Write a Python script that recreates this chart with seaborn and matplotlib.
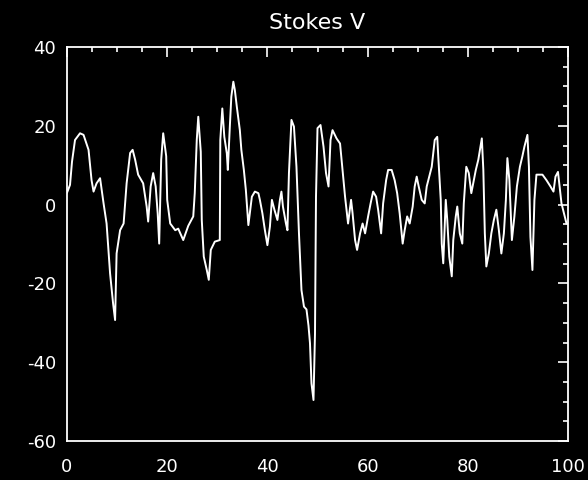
import matplotlib
matplotlib.use("Agg")
import matplotlib.pyplot as plt
import seaborn as sns
import pandas as pd
from matplotlib.ticker import MultipleLocator

# traced data (x position, Stokes V value)
xs = [0.0, 0.6, 1.0, 1.6, 2.6, 3.3, 4.3, 4.9, 5.3, 5.9, 6.6, 7.3, 7.9, 8.6, 9.2, 9.6,
      9.9, 10.6, 11.3, 11.9, 12.6, 13.1, 13.6, 14.2, 15.2, 15.9, 16.2, 16.7, 17.2, 17.7,
      18.1, 18.4, 18.8, 19.2, 19.8, 20.0, 20.6, 21.6, 22.2, 23.2, 24.2, 25.2, 25.5, 25.9,
      26.2, 26.7, 26.9, 27.3, 27.9, 28.3, 28.7, 29.5, 30.5, 30.6, 31.0, 31.4, 31.9, 32.1,
      32.5, 32.8, 33.2, 33.5, 33.9, 34.5, 34.8, 35.3, 35.7, 36.2, 36.5, 36.9, 37.5, 38.2,
      38.5, 39.0, 39.5, 40.0, 40.5, 40.9, 41.4, 42.0, 42.5, 42.8, 43.1, 43.7, 44.0, 44.3,
      44.8, 45.3, 45.8, 46.3, 46.8, 47.3, 47.8, 48.2, 48.5, 48.8, 49.2, 49.5, 49.7, 50.0,
      50.6, 51.2, 51.7, 52.2, 52.6, 53.0, 53.8, 54.5, 55.0, 55.5, 56.1, 56.7, 57.0, 57.5,
      57.9, 58.5, 59.0, 59.5, 60.1, 60.6, 61.1, 61.7, 62.1, 62.7, 63.1, 63.7, 64.1, 64.8,
      65.4, 65.9, 66.4, 67.0, 67.4, 67.9, 68.4, 69.0, 69.4, 69.8, 70.2, 70.8, 71.4, 71.8,
      72.8, 73.4, 73.9, 74.1, 74.6, 74.8, 75.1, 75.6, 75.9, 76.3, 76.8, 77.1, 77.6, 77.9,
      78.4, 78.9, 79.2, 79.7, 80.2, 80.7, 81.2, 81.6, 82.1, 82.8, 83.1, 83.4, 83.7, 84.2,
      84.7, 85.2, 85.7, 86.2, 86.7, 87.2, 87.6, 87.9, 88.3, 88.8, 89.3, 89.8, 90.4, 90.9,
      91.3, 91.9, 92.2, 92.5, 92.9, 93.3, 93.7, 94.9, 95.7, 96.5, 97.1, 97.5, 98.0, 98.4,
      98.7, 99.2, 99.7]
vs = [3.0, 5.0, 10.9, 16.4, 18.1, 17.7, 13.9, 6.2, 3.3, 5.4, 6.7, 0.3, -4.8, -17.5, -25.1, -29.3,
      -12.4, -6.5, -4.8, 5.4, 13.1, 13.9, 11.4, 7.6, 5.4, -0.5, -4.3, 4.6, 8.0, 4.6,
      -2.2, -9.9, 11.4, 18.1, 12.3, 1.2, -4.8, -6.5, -6.1, -9.0, -5.4, -3.0, 2.9, 16.4,
      22.3, 13.4, -3.9, -13.2, -16.6, -19.1, -11.5, -9.4, -9.0, 16.4, 24.4, 17.2, 13.0, 8.8,
      19.8, 27.4, 31.2, 29.1, 24.8, 18.9, 13.9, 8.8, 3.7, -5.2, -2.2, 2.0, 3.3, 2.9,
      1.2, -2.2, -6.5, -10.3, -5.6, 1.2, -1.3, -3.9, 1.2, 3.3, -0.5, -4.8, -6.5, 8.0,
      21.5, 19.8, 9.6, -7.3, -21.7, -25.9, -26.6, -30.7, -35.2, -45.4, -49.6, -32.7, 2.0, 19.4,
      20.2, 14.7, 8.0, 4.6, 16.4, 18.9, 16.8, 15.5, 8.8, 2.0, -4.8, 1.2, -2.2, -9.0,
      -11.5, -7.3, -4.8, -7.3, -3.0, 0.3, 3.3, 2.0, -1.3, -7.3, 0.3, 6.2, 8.8, 8.8,
      6.2, 2.9, -2.2, -9.9, -6.5, -3.0, -4.8, -0.5, 4.6, 7.1, 4.6, 1.2, 0.3, 4.6,
      9.6, 16.4, 17.2, 12.3, 1.2, -9.9, -14.9, 1.2, -3.9, -13.2, -18.2, -9.0, -3.0, -0.5,
      -7.3, -9.9, 0.3, 9.6, 8.0, 2.9, 6.2, 8.8, 11.4, 16.8, 8.8, -7.3, -15.7, -12.4,
      -7.3, -3.9, -1.3, -6.5, -12.4, -7.3, 1.2, 11.8, 6.2, -9.0, -3.0, 4.6, 9.6, 12.3,
      14.7, 17.7, 9.6, -8.2, -16.6, 1.2, 7.6, 7.6, 6.2, 4.6, 3.3, 7.1, 8.3, 3.7,
      0.3, -2.2, -4.8]

title = "Stokes V"
xticks = [0, 20, 40, 60, 80, 100]
yticks = [-60, -40, -20, 0, 20, 40]

sns.set_theme(style="white")
plt.rcParams["font.family"] = ["DejaVu Sans"]
plt.rcParams["axes.unicode_minus"] = False

df = pd.DataFrame({"x": xs, "v": vs})

fig = plt.figure(figsize=(5.88, 4.8), dpi=100, facecolor="black")
ax = fig.add_axes([67 / 588, 39 / 480, 501 / 588, 394 / 480])
ax.set_facecolor("black")

sns.lineplot(data=df, x="x", y="v", sort=False, estimator=None, ax=ax,
             color="white", linewidth=1.4)

ax.set_xlim(0, 100)
ax.set_ylim(-60, 40)
ax.set_xticks(xticks)
ax.set_yticks(yticks)
ax.xaxis.set_minor_locator(MultipleLocator(5))
ax.yaxis.set_minor_locator(MultipleLocator(5))
ax.tick_params(which="both", direction="in", top=True, right=True, colors="white",
               labelcolor="white", labelsize=13, width=1.2)
ax.tick_params(which="major", length=7)
ax.tick_params(axis="y", which="major", pad=8)
ax.tick_params(axis="x", which="major", pad=12)
ax.tick_params(which="minor", length=3.5)
for s in ax.spines.values():
    s.set_color("white")
    s.set_linewidth(1.3)
ax.set_xlabel("")
ax.set_ylabel("")
ax.set_title(title, color="white", fontsize=16, pad=13)

fig.savefig("out.png", dpi=100, facecolor="black")
